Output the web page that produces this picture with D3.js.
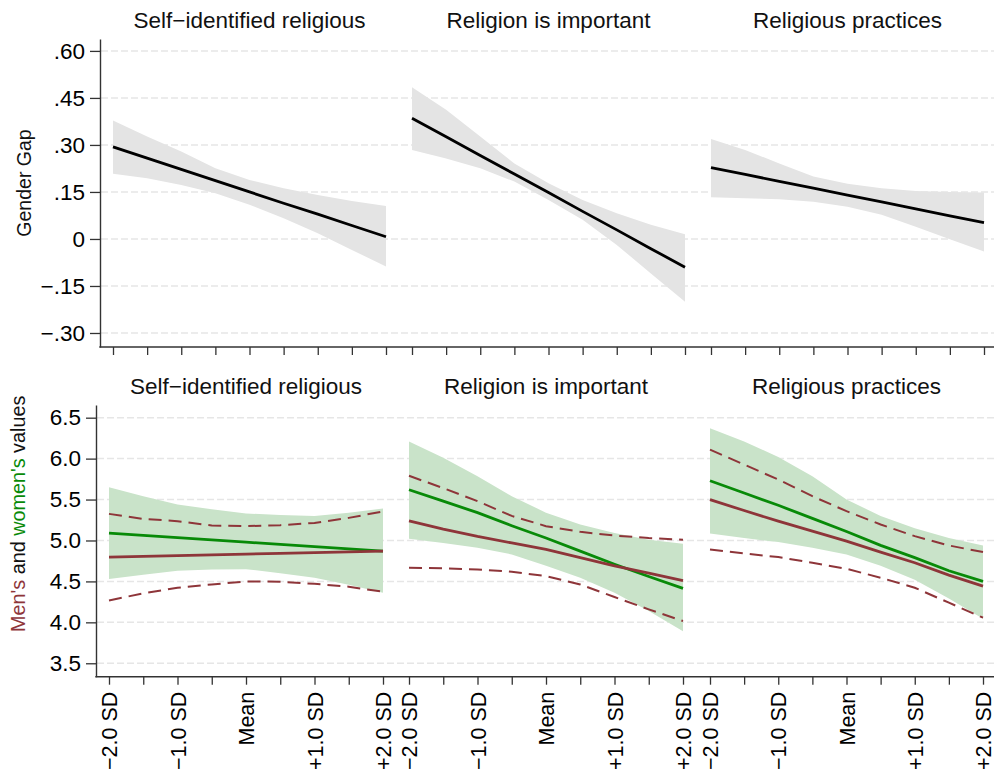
<!DOCTYPE html>
<html>
<head>
<meta charset="utf-8">
<script src="https://cdn.jsdelivr.net/npm/d3@7"></script>
<style>
  html, body { margin: 0; padding: 0; background: #fff; }
  svg { display: block; font-family: "Liberation Sans", Arial, sans-serif; }
</style>
</head>
<body>
<svg id="chart" width="994" height="775"></svg>
<script>
// Standardised predictor values (−2 SD … +2 SD in half-SD steps)
const xVals = [-2, -1.5, -1, -0.5, 0, 0.5, 1, 1.5, 2];
const panelTitles = ["Self\u2212identified religious", "Religion is important", "Religious practices"];

// Top row: predicted gender gap with 95% band
const gapSelfId      = [0.294, 0.258, 0.222, 0.186, 0.150, 0.114, 0.079, 0.043, 0.007];
const gapSelfIdHi    = [0.378, 0.327, 0.279, 0.226, 0.188, 0.162, 0.140, 0.121, 0.105];
const gapSelfIdLo    = [0.208, 0.194, 0.172, 0.146, 0.109, 0.066, 0.018, -0.035, -0.088];
const gapImportant   = [0.385, 0.326, 0.266, 0.207, 0.148, 0.088, 0.029, -0.031, -0.090];
const gapImportantHi = [0.484, 0.412, 0.327, 0.241, 0.178, 0.124, 0.082, 0.045, 0.015];
const gapImportantLo = [0.284, 0.257, 0.226, 0.183, 0.124, 0.061, -0.019, -0.110, -0.200];
const gapPractice    = [0.228, 0.206, 0.184, 0.162, 0.140, 0.118, 0.096, 0.074, 0.052];
const gapPracticeHi  = [0.319, 0.284, 0.241, 0.199, 0.176, 0.162, 0.153, 0.150, 0.148];
const gapPracticeLo  = [0.133, 0.130, 0.127, 0.119, 0.103, 0.077, 0.039, -0.001, -0.040];

// Bottom row: women's predicted values with band
const womenSelfId      = [5.089, 5.062, 5.034, 5.007, 4.980, 4.952, 4.925, 4.897, 4.870];
const womenSelfIdHi    = [5.65, 5.54, 5.44, 5.38, 5.33, 5.31, 5.30, 5.34, 5.39];
const womenSelfIdLo    = [4.53, 4.58, 4.63, 4.645, 4.65, 4.60, 4.545, 4.46, 4.36];
const womenImportant   = [5.62, 5.48, 5.34, 5.18, 5.03, 4.87, 4.71, 4.56, 4.415];
const womenImportantHi = [6.21, 6.01, 5.785, 5.54, 5.34, 5.195, 5.09, 5.01, 4.96];
const womenImportantLo = [5.02, 4.97, 4.91, 4.83, 4.69, 4.545, 4.36, 4.14, 3.89];
const womenPractice    = [5.73, 5.58, 5.43, 5.27, 5.11, 4.94, 4.79, 4.63, 4.50];
const womenPracticeHi  = [6.37, 6.21, 6.02, 5.785, 5.50, 5.30, 5.15, 5.03, 4.94];
const womenPracticeLo  = [5.085, 5.03, 4.98, 4.91, 4.83, 4.69, 4.52, 4.29, 4.045];

// Bottom row: men's predicted values with dashed bounds
const menSelfId      = [4.797, 4.806, 4.815, 4.824, 4.834, 4.843, 4.852, 4.861, 4.870];
const menSelfIdHi    = [5.325, 5.264, 5.236, 5.183, 5.175, 5.187, 5.215, 5.276, 5.355];
const menSelfIdLo    = [4.268, 4.354, 4.423, 4.463, 4.50, 4.496, 4.47, 4.435, 4.374];
const menImportant   = [5.24, 5.14, 5.05, 4.97, 4.89, 4.79, 4.69, 4.60, 4.51];
const menImportantHi = [5.79, 5.64, 5.48, 5.30, 5.175, 5.106, 5.06, 5.03, 5.01];
const menImportantLo = [4.667, 4.659, 4.646, 4.618, 4.565, 4.463, 4.309, 4.159, 4.016];
const menPractice    = [5.50, 5.366, 5.236, 5.114, 4.992, 4.858, 4.728, 4.577, 4.443];
const menPracticeHi  = [6.11, 5.927, 5.744, 5.541, 5.358, 5.195, 5.053, 4.939, 4.858];
const menPracticeLo  = [4.89, 4.841, 4.797, 4.728, 4.654, 4.545, 4.423, 4.24, 4.057];

// Axis tick values and labels
const gapTicks      = [0.60, 0.45, 0.30, 0.15, 0, -0.15, -0.30];
const gapTickLabels = [".60", ".45", ".30", ".15", "0", "\u2212.15", "\u2212.30"];
const valTicks      = [6.5, 6.0, 5.5, 5.0, 4.5, 4.0, 3.5];
const valTickLabels = ["6.5", "6.0", "5.5", "5.0", "4.5", "4.0", "3.5"];
const sdTicks       = [-2, -1, 0, 1, 2];
const sdTickLabels  = ["\u22122.0 SD", "\u22121.0 SD", "Mean", "+1.0 SD", "+2.0 SD"];

// Colours
const C_GRID = "#e6e6e6", C_AXIS = "#333333";
const C_GAPBAND = "#e4e4e4", C_GAPLINE = "#000000";
const C_WBAND = "#c9e3c9", C_WOMEN = "#088a08", C_MEN = "#8e3539";

const topSeries = [
  { mean: gapSelfId, hi: gapSelfIdHi, lo: gapSelfIdLo },
  { mean: gapImportant, hi: gapImportantHi, lo: gapImportantLo },
  { mean: gapPractice, hi: gapPracticeHi, lo: gapPracticeLo }
];
const botSeries = [
  { w: womenSelfId, wHi: womenSelfIdHi, wLo: womenSelfIdLo, m: menSelfId, mHi: menSelfIdHi, mLo: menSelfIdLo },
  { w: womenImportant, wHi: womenImportantHi, wLo: womenImportantLo, m: menImportant, mHi: menImportantHi, mLo: menImportantLo },
  { w: womenPractice, wHi: womenPracticeHi, wLo: womenPracticeLo, m: menPractice, mHi: menPracticeHi, mLo: menPracticeLo }
];

const svg = d3.select("#chart");
const W = 994;
const FONT = "Liberation Sans, Arial, sans-serif";

// Layout of the two rows
const topRow = { axisX: 100, y0: 347, y1: 39, panels: [[113, 386], [412, 685], [711, 984]], titleY: 28 };
const botRow = { axisX: 96, y0: 676.7, y1: 405, panels: [[109, 383], [409, 683], [710, 983]], titleY: 394 };

const yTop = d3.scaleLinear().domain([-0.3447, 0.638]).range([topRow.y0, topRow.y1]);
const yBot = d3.scaleLinear().domain([3.336, 6.655]).range([botRow.y0, botRow.y1]);

function drawGrid(cfg, yScale, ticks) {
  svg.append("g").selectAll("line").data(ticks).join("line")
    .attr("x1", cfg.axisX + 1).attr("x2", W)
    .attr("y1", d => yScale(d)).attr("y2", d => yScale(d))
    .attr("stroke", C_GRID).attr("stroke-width", 1.5).attr("stroke-dasharray", "7,3");
}

function drawAxes(cfg, yScale, ticks, tickLabels, xLabels) {
  // y axis
  const yAxis = d3.axisLeft(yScale).tickValues(ticks).tickSize(10).tickSizeOuter(0).tickPadding(5)
    .tickFormat((d, i) => tickLabels[i]);
  const ya = svg.append("g").attr("transform", `translate(${cfg.axisX},0)`).call(yAxis);
  ya.select(".domain").attr("stroke", C_AXIS).attr("stroke-width", 1.4);
  ya.selectAll(".tick line").attr("stroke", C_AXIS).attr("stroke-width", 1.3);
  ya.selectAll(".tick text").attr("font-size", 22.5).attr("fill", "#000").attr("font-family", FONT);

  // continuous x axis baseline across panels
  svg.append("line").attr("x1", cfg.axisX - 0.7).attr("x2", W)
    .attr("y1", cfg.y0).attr("y2", cfg.y0).attr("stroke", C_AXIS).attr("stroke-width", 1.4);

  cfg.panels.forEach(r => {
    const x = d3.scaleLinear().domain([-2, 2]).range(r);
    const xAxis = d3.axisBottom(x).tickValues(xVals).tickSize(8).tickSizeOuter(0).tickPadding(6)
      .tickFormat(d => {
        if (!xLabels) return "";
        const k = sdTicks.indexOf(d);
        return k >= 0 ? sdTickLabels[k] : "";
      });
    const xa = svg.append("g").attr("transform", `translate(0,${cfg.y0})`).call(xAxis);
    xa.select(".domain").remove();
    xa.selectAll(".tick line").attr("stroke", C_AXIS).attr("stroke-width", 1.3);
    xa.selectAll(".tick text")
      .attr("font-size", 21.5).attr("fill", "#000").attr("font-family", FONT)
      .attr("text-anchor", "end")
      .attr("transform", "rotate(-90)")
      .attr("x", -15).attr("y", 0).attr("dy", "0.35em");
  });
}

function drawTitle(cx, y, label) {
  svg.append("text").attr("x", cx).attr("y", y)
    .attr("text-anchor", "middle").attr("font-size", 22.5).attr("fill", "#111").text(label);
}

// ---- Top row: gender gap ----
drawGrid(topRow, yTop, gapTicks);
topRow.panels.forEach((r, i) => {
  const x = d3.scaleLinear().domain([-2, 2]).range(r);
  const s = topSeries[i];
  const area = d3.area().x((d, j) => x(xVals[j])).y0((d, j) => yTop(s.lo[j])).y1((d, j) => yTop(s.hi[j]));
  svg.append("path").datum(s.mean).attr("d", area).attr("fill", C_GAPBAND);
  const line = d3.line().x((d, j) => x(xVals[j])).y(d => yTop(d));
  svg.append("path").datum(s.mean).attr("d", line).attr("fill", "none")
    .attr("stroke", C_GAPLINE).attr("stroke-width", 2.8);
  drawTitle((r[0] + r[1]) / 2, topRow.titleY, panelTitles[i]);
});
drawAxes(topRow, yTop, gapTicks, gapTickLabels, false);

// ---- Bottom row: men's and women's values ----
drawGrid(botRow, yBot, valTicks);
botRow.panels.forEach((r, i) => {
  const x = d3.scaleLinear().domain([-2, 2]).range(r);
  const s = botSeries[i];
  const area = d3.area().x((d, j) => x(xVals[j])).y0((d, j) => yBot(s.wLo[j])).y1((d, j) => yBot(s.wHi[j]));
  svg.append("path").datum(s.w).attr("d", area).attr("fill", C_WBAND);
  const line = d3.line().x((d, j) => x(xVals[j])).y(d => yBot(d));
  [s.mHi, s.mLo].forEach(b => {
    svg.append("path").datum(b).attr("d", line).attr("fill", "none")
      .attr("stroke", C_MEN).attr("stroke-width", 2).attr("stroke-dasharray", "13,7");
  });
  svg.append("path").datum(s.w).attr("d", line).attr("fill", "none")
    .attr("stroke", C_WOMEN).attr("stroke-width", 2.8);
  svg.append("path").datum(s.m).attr("d", line).attr("fill", "none")
    .attr("stroke", C_MEN).attr("stroke-width", 2.8);
  drawTitle((r[0] + r[1]) / 2, botRow.titleY, panelTitles[i]);
});
drawAxes(botRow, yBot, valTicks, valTickLabels, true);

// ---- Y axis titles ----
svg.append("text")
  .attr("transform", `translate(31,${(topRow.y0 + topRow.y1) / 2 - 10}) rotate(-90)`)
  .attr("text-anchor", "middle").attr("font-size", 19.5).attr("fill", "#111")
  .text("Gender Gap");

const yt = svg.append("text")
  .attr("transform", `translate(25,${(botRow.y0 + botRow.y1) / 2 - 27}) rotate(-90)`)
  .attr("text-anchor", "middle").attr("font-size", 19.8);
yt.append("tspan").attr("fill", C_MEN).text("Men's");
yt.append("tspan").attr("fill", "#111").text(" and ");
yt.append("tspan").attr("fill", C_WOMEN).text("women's");
yt.append("tspan").attr("fill", "#111").text(" values");
</script>
</body>
</html>
